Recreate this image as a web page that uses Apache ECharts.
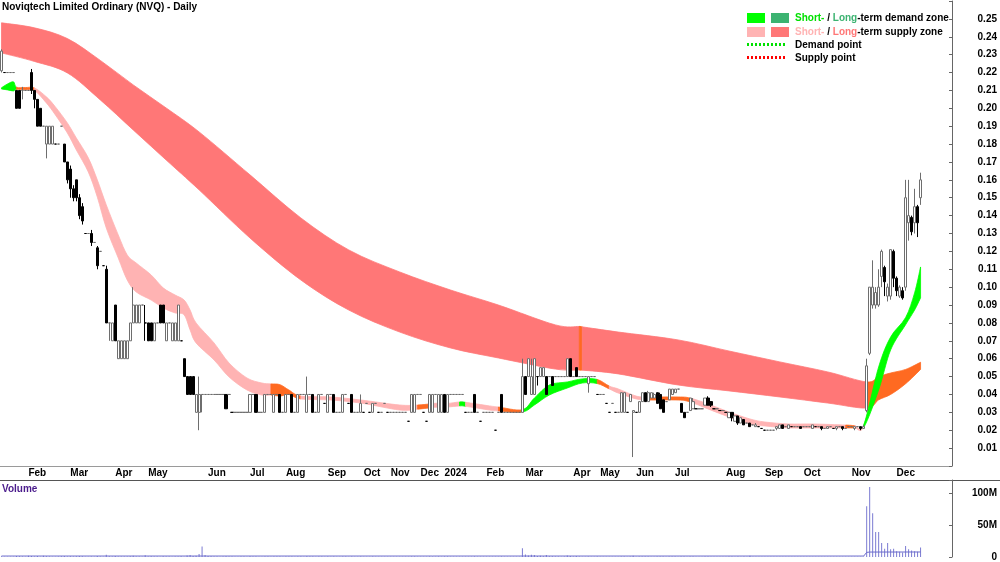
<!DOCTYPE html>
<html><head><meta charset="utf-8">
<script src="https://cdn.jsdelivr.net/npm/echarts@6/dist/echarts.min.js"></script>
<style>html,body{margin:0;padding:0;background:#fff}#c{width:1000px;height:562px}</style>
</head><body><div id="c"></div>
<script>
const FONT = '"Liberation Sans", Arial, sans-serif';

// month labels shown on the date axis (first one is not labelled) and trading bars per month
const months = ['Jan','Feb','Mar','Apr','May','Jun','Jul','Aug','Sep','Oct','Nov','Dec',
                '2024','Feb','Mar','Apr','May','Jun','Jul','Aug','Sep','Oct','Nov','Dec'];
const barsPerMonth = [9,14,15,11,20,14,12,14,12,9,10,8,14,13,16,9,12,13,17,13,13,16,15,9];
const padBars = 10;

// daily bars: [open, close, low, high]; a single number = open=close=low=high
const ohlc = [
  // Jan 2023
  [0.221,0.232,0.22,0.233],0.22,0.22,0.22,0.22,[0.21,0.2,0.2,0.21],[0.21,0.2,0.2,0.21],[0.21,0.21,0.205,0.212],0.21,
  // Feb
  0.21,[0.22,0.21,0.208,0.222],[0.21,0.205,0.2,0.21],[0.205,0.19,0.19,0.205],[0.2,0.19,0.19,0.2],0.19,[0.18,0.19,0.172,0.19],[0.18,0.19,0.18,0.19],[0.18,0.19,0.18,0.19],0.18,0.18,0.19,[0.18,0.17,0.17,0.18],[0.17,0.16,0.158,0.17],
  // Mar
  [0.166,0.155,0.15,0.168],[0.155,0.15,0.148,0.157],[0.16,0.15,0.148,0.16],[0.15,0.14,0.138,0.152],[0.145,0.137,0.135,0.147],0.13,0.13,[0.13,0.125,0.123,0.132],0.125,[0.122,0.112,0.11,0.123],0.12,0.112,[0.11,0.08,0.08,0.112],[0.08,0.08,0.07,0.08],[0.07,0.08,0.07,0.08],
  // Apr
  [0.09,0.07,0.07,0.09],[0.06,0.07,0.06,0.07],[0.06,0.07,0.06,0.07],[0.06,0.07,0.06,0.07],[0.06,0.07,0.06,0.07],[0.07,0.08,0.07,0.08],[0.08,0.09,0.08,0.1],[0.08,0.09,0.08,0.09],[0.08,0.09,0.08,0.09],0.09,[0.08,0.08,0.07,0.09],
  // May
  [0.08,0.07,0.07,0.08],[0.08,0.07,0.07,0.08],[0.07,0.08,0.07,0.08],0.08,[0.09,0.08,0.08,0.09],[0.09,0.08,0.08,0.09],[0.07,0.08,0.07,0.08],0.08,[0.07,0.08,0.07,0.08],[0.07,0.08,0.07,0.08],[0.07,0.09,0.07,0.09],0.07,[0.06,0.05,0.05,0.06],[0.05,0.04,0.04,0.05],[0.05,0.04,0.04,0.05],[0.05,0.04,0.04,0.05],[0.03,0.04,0.03,0.04],[0.03,0.04,0.02,0.05],[0.04,0.04,0.03,0.04],0.04,
  // Jun
  0.04,0.04,0.04,0.04,0.04,0.04,[0.04,0.032,0.032,0.04],0.04,0.03,0.03,0.03,0.03,0.03,0.03,
  // Jul
  [0.03,0.04,0.03,0.04],0.04,[0.04,0.03,0.03,0.04],0.03,0.03,[0.03,0.04,0.03,0.04],0.04,0.04,[0.03,0.04,0.03,0.04],0.04,[0.04,0.03,0.03,0.04],0.03,
  // Aug
  [0.03,0.04,0.03,0.04],0.04,[0.04,0.03,0.03,0.04],0.03,[0.03,0.04,0.03,0.04],0.04,0.04,[0.03,0.04,0.03,0.05],0.04,[0.04,0.03,0.03,0.04],0.03,[0.03,0.04,0.03,0.04],0.04,0.035,
  // Sep
  [0.03,0.04,0.03,0.04],0.04,[0.04,0.03,0.03,0.04],0.03,0.03,[0.03,0.04,0.03,0.04],0.04,0.035,[0.04,0.03,0.03,0.04],0.03,0.03,[0.03,0.035,0.03,0.04],
  // Oct
  0.03,0.035,0.03,[0.03,0.035,0.03,0.035],0.035,0.03,0.03,0.035,0.03,
  // Nov
  0.03,0.03,0.03,0.03,0.03,0.03,0.025,[0.03,0.04,0.03,0.04],[0.03,0.04,0.03,0.04],0.04,
  // Dec
  0.04,0.03,0.025,[0.03,0.04,0.03,0.04],[0.03,0.04,0.03,0.04],0.04,[0.03,0.04,0.03,0.04],[0.03,0.04,0.03,0.04],
  // Jan 2024
  [0.04,0.03,0.03,0.04],[0.03,0.04,0.03,0.04],0.04,0.04,0.04,0.04,0.04,0.03,0.03,0.03,[0.04,0.03,0.03,0.04],0.03,0.025,0.03,
  // Feb
  0.03,0.03,0.03,0.02,0.03,[0.04,0.03,0.03,0.04],0.03,0.03,0.03,0.03,0.03,0.03,[0.03,0.05,0.03,0.06],
  // Mar
  [0.05,0.04,0.04,0.05],[0.05,0.06,0.05,0.06],[0.04,0.05,0.04,0.06],[0.04,0.06,0.04,0.06],[0.05,0.05,0.045,0.05],[0.05,0.055,0.05,0.055],[0.05,0.055,0.05,0.055],[0.05,0.04,0.04,0.05],0.05,[0.05,0.045,0.045,0.05],0.05,0.05,0.05,0.05,[0.05,0.06,0.05,0.06],[0.06,0.05,0.05,0.06],
  // Apr
  0.05,[0.055,0.05,0.05,0.055],0.05,0.05,0.05,[0.046,0.05,0.041,0.05],0.05,0.05,0.04,
  // May
  0.04,0.04,0.035,0.03,0.035,0.03,0.03,[0.03,0.041,0.03,0.041],[0.03,0.041,0.03,0.041],0.03,[0.036,0.04,0.036,0.04],[0.03,0.031,0.005,0.031],
  // Jun
  0.03,[0.03,0.036,0.03,0.036],[0.036,0.041,0.036,0.041],[0.041,0.036,0.036,0.041],[0.036,0.041,0.036,0.042],[0.038,0.041,0.038,0.041],[0.038,0.04,0.038,0.041],[0.041,0.035,0.035,0.041],[0.04,0.032,0.032,0.041],[0.037,0.03,0.03,0.037],0.036,[0.037,0.043,0.037,0.043],[0.04,0.043,0.04,0.043],
  // Jul
  [0.041,0.043,0.041,0.043],0.043,[0.035,0.03,0.03,0.035],[0.03,0.027,0.027,0.03],0.03,[0.031,0.038,0.031,0.038],[0.032,0.036,0.032,0.038],0.032,0.032,0.032,[0.034,0.038,0.034,0.038],[0.038,0.034,0.034,0.039],[0.036,0.034,0.033,0.036],0.032,0.032,0.031,0.031,
  // Aug
  0.03,[0.027,0.03,0.027,0.03],[0.03,0.027,0.025,0.03],[0.025,0.028,0.025,0.028],[0.028,0.024,0.023,0.028],[0.024,0.027,0.024,0.027],[0.026,0.023,0.023,0.026],0.024,[0.024,0.022,0.022,0.024],0.023,[0.022,0.023,0.022,0.024],0.022,0.021,
  // Sep
  0.02,0.02,0.02,0.02,[0.021,0.022,0.02,0.022],[0.021,0.023,0.021,0.023],[0.023,0.021,0.021,0.023],0.022,[0.021,0.023,0.021,0.023],0.022,0.022,0.022,[0.022,0.021,0.021,0.022],
  // Oct
  0.022,0.022,0.022,[0.021,0.023,0.021,0.023],0.022,0.022,[0.022,0.021,0.02,0.022],0.021,[0.021,0.022,0.021,0.022],0.022,0.021,[0.021,0.022,0.02,0.022],0.022,[0.022,0.021,0.02,0.022],0.021,0.022,
  // Nov
  0.022,[0.021,0.022,0.02,0.022],0.022,[0.022,0.021,0.02,0.022],[0.021,0.022,0.021,0.023],[0.031,0.056,0.03,0.06],[0.063,0.1,0.062,0.1],[0.09,0.1,0.088,0.115],[0.09,0.097,0.088,0.1],[0.09,0.1,0.089,0.11],[0.106,0.12,0.1,0.121],[0.111,0.103,0.095,0.112],[0.095,0.1,0.092,0.102],[0.095,0.121,0.093,0.121],[0.12,0.105,0.1,0.121],
  // Dec
  [0.105,0.098,0.095,0.106],[0.095,0.1,0.094,0.101],[0.098,0.094,0.093,0.1],[0.1,0.15,0.098,0.16],[0.136,0.14,0.126,0.16],[0.139,0.131,0.129,0.14],[0.136,0.145,0.13,0.155],[0.145,0.136,0.128,0.146],[0.15,0.16,0.146,0.164]
];

// daily volume in millions of shares
const volume = [
  1.2,0.4,0.3,0.5,0.2,1.5,1.1,0.6,0.4,
  2.0,1.6,0.9,1.4,0.5,1.8,1.0,0.8,0.4,0.3,0.6,1.2,1.5,0.9,
  1.3,0.8,1.1,1.6,1.2,0.5,0.4,0.9,0.3,1.4,0.6,0.5,3.5,1.0,0.7,
  1.5,0.9,0.6,0.8,0.7,1.1,2.0,0.9,0.8,0.4,2.8,
  0.6,1.2,0.9,0.7,0.4,1.0,0.8,0.6,0.3,0.7,0.6,1.3,0.4,2.5,3.0,1.5,2.0,4.5,16.5,3.0,
  1.5,1.0,0.8,0.6,0.5,0.7,1.2,0.9,0.6,0.4,0.5,0.8,0.6,0.5,
  1.0,0.6,0.9,0.4,0.5,0.8,0.6,0.5,0.9,0.6,0.8,0.5,
  0.9,0.6,0.8,0.5,0.7,0.6,0.5,1.2,0.6,0.8,0.5,0.7,0.6,0.5,
  0.8,0.5,0.7,0.4,0.5,0.9,0.6,0.5,0.8,0.5,0.4,0.7,
  0.4,0.5,0.3,0.6,0.4,0.3,0.4,0.5,0.3,
  0.3,0.4,0.3,0.3,0.2,0.4,0.3,0.8,0.6,0.4,
  0.5,0.3,0.2,0.7,0.6,0.4,0.6,0.5,
  0.7,0.6,0.4,0.3,0.3,0.4,0.3,0.3,0.2,0.3,0.6,0.3,0.2,0.3,
  0.3,0.2,0.3,0.2,0.3,0.7,0.3,0.2,0.3,0.2,0.3,0.3,13.5,
  4.0,2.5,3.5,3.0,1.5,1.8,1.2,3.0,1.0,1.2,0.8,0.6,0.5,0.7,2.5,1.6,
  0.8,1.5,0.6,0.5,0.4,0.9,0.5,0.4,0.6,
  0.5,0.4,0.5,0.4,0.3,0.4,0.3,0.8,0.7,0.3,0.6,2.0,
  0.4,0.7,0.8,0.6,0.7,0.5,0.5,0.9,0.8,0.7,0.4,0.9,0.6,
  0.6,0.4,0.9,0.7,0.3,0.8,0.6,0.3,0.3,0.3,0.7,0.8,0.5,0.3,0.3,0.2,0.2,
  0.3,0.6,0.7,0.5,0.8,0.5,0.7,0.3,2.0,0.4,0.5,0.3,0.3,
  0.2,0.2,0.2,0.2,0.4,0.5,0.5,0.3,0.5,0.3,0.3,0.3,0.4,
  0.3,0.3,0.3,0.5,0.3,0.3,0.5,0.3,0.4,0.3,0.3,0.5,0.3,0.5,0.3,0.3,
  0.3,0.4,0.3,0.5,0.6,79,109,68,39,39,22,13,22,12,13,
  9,8,7,17,12,10,9,8,15
];
// volume average line: [bar index, millions]
const volumeAvg = [[0,1.5],[288,1.5],[289,7.2],[290,7.7],[307,7.8]];

// zone bands: [bar index, upper price, lower price]
const longBand = [
  [-0.5,0.2478,0.2310],[10.5,0.2450,0.2262],[21.8,0.2390,0.2198],[32.8,0.2268,0.2047],[43.8,0.2131,0.1879],
  [55.2,0.2002,0.1711],[66.2,0.1868,0.1544],[82.8,0.1628,0.1275],[99.5,0.1387,0.1040],[116.2,0.1208,0.0872],
  [132.8,0.1085,0.0749],[149.5,0.0984,0.0660],[166.2,0.0900,0.0604],[185.2,0.0789,0.0542],[192.5,0.0780,0.0537],
  [193.6,0.0778,0.0536],[206.2,0.0749,0.0515],[226.2,0.0705,0.0453],[242.8,0.0643,0.0420],[259.5,0.0582,0.0386],
  [276.2,0.0526,0.0352],[288.8,0.0470,0.0324],[292.8,0.0500,0.0370],[297.2,0.0520,0.0400],[301.8,0.0540,0.0460],
  [307.2,0.0580,0.0540]
];
const longZones = [[-0.5,192.5,'red'],[192.5,193.6,'orange'],[193.6,288.8,'red'],[288.8,307.2,'orange']];

const shortBand = [
  [-0.5,0.2115,0.2108],[1.5,0.2136,0.2103],[3.5,0.2148,0.2097],[4.5,0.2118,0.2106],[7.5,0.2116,0.2104],
  [10.5,0.2114,0.2100],[14.5,0.2064,0.2030],[17.8,0.2008,0.1963],[21.8,0.1918,0.1862],[25.2,0.1834,0.1767],
  [28.5,0.1723,0.1644],[31.8,0.1600,0.1504],[35.2,0.1460,0.1331],[38.5,0.1292,0.1163],[41.8,0.1180,0.1040],
  [45.2,0.1135,0.0973],[49.5,0.1068,0.0928],[53.8,0.0996,0.0884],[57.8,0.0956,0.0856],[60.5,0.0928,0.0845],
  [62.8,0.0872,0.0761],[65.2,0.0800,0.0688],[70.5,0.0688,0.0593],[76.2,0.0576,0.0498],[81.8,0.0492,0.0425],
  [87.2,0.0464,0.0397],[89.5,0.0459,0.0397],[92.8,0.0455,0.0391],[96.2,0.0425,0.0400],[99.5,0.0391,0.0375],
  [109.5,0.0386,0.0369],[119.5,0.0369,0.0352],[132.8,0.0341,0.0313],[138.5,0.0341,0.0318],[142.8,0.0347,0.0325],
  [146.2,0.0352,0.0330],[148.5,0.0350,0.0330],[152.8,0.0358,0.0336],[155.2,0.0356,0.0334],[162.8,0.0336,0.0313],
  [166.2,0.0330,0.0308],[173.8,0.0315,0.0302],[177.8,0.0380,0.0341],[182.8,0.0453,0.0397],[188.5,0.0470,0.0436],
  [193.8,0.0487,0.0464],[198.5,0.0484,0.0461],[202.8,0.0447,0.0431],[206.2,0.0431,0.0408],[211.8,0.0391,0.0375],
  [216.2,0.0386,0.0369],[226.2,0.0386,0.0369],[229.5,0.0380,0.0358],[236.2,0.0347,0.0319],[242.8,0.0302,0.0274],
  [249.5,0.0263,0.0235],[255.2,0.0246,0.0224],[262.8,0.0235,0.0213],[270.5,0.0235,0.0213],[282.2,0.0229,0.0213],
  [285.2,0.0226,0.0213],[288.2,0.0230,0.0215],[292.8,0.0554,0.0425],[297.2,0.0721,0.0649],[301.8,0.0830,0.0790],
  [304.5,0.0968,0.0872],[307.2,0.1113,0.0940]
];
const shortZones = [
  [-0.5,4.5,'green'],[4.5,10.5,'orange'],[10.5,89.5,'pink'],[89.5,99.5,'orange'],[99.5,138.5,'pink'],
  [138.5,142.8,'orange'],[142.8,146.2,'pink'],[146.2,148.5,'green'],[148.5,152.8,'pink'],[152.8,155.2,'green'],
  [155.2,166.2,'pink'],[166.2,173.8,'orange'],[173.8,198.5,'green'],[198.5,202.8,'orange'],[202.8,216.2,'pink'],
  [216.2,229.5,'orange'],[229.5,282.2,'pink'],[282.2,285.2,'orange'],[285.2,288.2,'pink'],[288.2,307.2,'green']
];
const zoneColors = {red:'#FF7777', pink:'#FFB3B3', orange:'#FF6A21', green:'#00FF00'};
const volumeTickLabels = {0:'0', 50:'50M', 100:'100M'};

// ---- build
const categories = [], monthStart = {};
months.forEach((m, mi) => {
  for (let k = 0; k < barsPerMonth[mi]; k++) {
    if (k === 0 && mi > 0) monthStart[categories.length] = m;
    categories.push(mi + '-' + k);
  }
});
for (let k = 0; k < padBars; k++) categories.push('pad-' + k);
const candles = ohlc.map(d => typeof d === 'number' ? [d, d, d, d] : d);

// smooth band outline (Catmull-Rom through the read points, in pixel space)
function bandPaths(api, band, zones) {
  const up = band.map(p => api.coord([p[0], p[1]]));
  const lo = band.map(p => api.coord([p[0], p[2]]));
  const n = band.length;
  const f = v => v.toFixed(2);
  const seg = (arr, j, k) => {
    const d = k - j;
    const prev = arr[Math.min(n - 1, Math.max(0, j - d))];
    const next = arr[Math.min(n - 1, Math.max(0, k + d))];
    const c1x = arr[j][0] + (arr[k][0] - prev[0]) / 6, c1y = arr[j][1] + (arr[k][1] - prev[1]) / 6;
    const c2x = arr[k][0] - (next[0] - arr[j][0]) / 6, c2y = arr[k][1] - (next[1] - arr[j][1]) / 6;
    return 'C' + f(c1x) + ',' + f(c1y) + ' ' + f(c2x) + ',' + f(c2y) + ' ' + f(arr[k][0]) + ',' + f(arr[k][1]);
  };
  const out = [];
  zones.forEach(([a, b, key]) => {
    let ia = -1, ib = -1;
    band.forEach((p, i) => { if (p[0] >= a - 1e-6 && p[0] <= b + 1e-6) { if (ia < 0) ia = i; ib = i; } });
    if (ia < 0 || ib <= ia) return;
    let d = 'M' + f(up[ia][0]) + ',' + f(up[ia][1]);
    for (let j = ia; j < ib; j++) d += seg(up, j, j + 1);
    d += 'L' + f(lo[ib][0]) + ',' + f(lo[ib][1]);
    for (let j = ib; j > ia; j--) d += seg(lo, j, j - 1);
    d += 'Z';
    out.push({type: 'path', shape: {pathData: d},
      style: {fill: zoneColors[key], stroke: zoneColors[key], lineWidth: 0.8}});
  });
  return out;
}

const labelStyle = {fontFamily: FONT, fontSize: 10, fontWeight: 'bold', color: '#000'};
const chart = echarts.init(document.getElementById('c'), null, {renderer: 'canvas'});
chart.setOption({
  animation: false,
  backgroundColor: '#fff',
  grid: [
    {left: 0, right: 48, top: 1, height: 465},
    {left: 0, right: 48, top: 480, height: 78}
  ],
  xAxis: [
    {type: 'category', gridIndex: 0, data: categories, boundaryGap: true,
     axisLine: {lineStyle: {color: '#9a9a9a', width: 1}},
     axisTick: {interval: (i) => monthStart[i] !== undefined, length: 3, lineStyle: {color: '#888'}},
     axisLabel: Object.assign({interval: (i) => monthStart[i] !== undefined,
       formatter: (v, i) => monthStart[i] || '', align: 'left', margin: 2}, labelStyle),
     splitLine: {show: false}},
    {type: 'category', gridIndex: 1, data: categories, boundaryGap: true,
     axisLine: {show: false}, axisTick: {show: false}, axisLabel: {show: false}, splitLine: {show: false}}
  ],
  yAxis: [
    {type: 'value', gridIndex: 0, position: 'right', min: 0, max: 0.26, interval: 0.01,
     axisLine: {show: true, lineStyle: {color: '#666'}},
     axisTick: {show: true, inside: true, length: 3, lineStyle: {color: '#666'}},
     axisLabel: Object.assign({align: 'right', margin: 45,
       formatter: v => (v > 0.005 && v < 0.255) ? v.toFixed(2) : ''}, labelStyle),
     splitLine: {show: false}},
    {type: 'value', gridIndex: 1, position: 'right', min: 0, max: 120, interval: 50,
     axisLine: {show: true, lineStyle: {color: '#666'}},
     axisTick: {show: true, inside: true, length: 3, lineStyle: {color: '#666'}},
     axisLabel: Object.assign({align: 'right', margin: 45,
       formatter: v => volumeTickLabels[Math.round(v)] !== undefined && Math.abs(v - Math.round(v)) < 1e-6 ? volumeTickLabels[Math.round(v)] : ''}, labelStyle),
     splitLine: {show: false}}
  ],
  series: [
    {type: 'custom', xAxisIndex: 0, yAxisIndex: 0, data: [[0, 0]], z: 1, silent: true, clip: true,
     renderItem: (params, api) => ({type: 'group',
       children: bandPaths(api, longBand, longZones).concat(bandPaths(api, shortBand, shortZones))})},
    {type: 'candlestick', xAxisIndex: 0, yAxisIndex: 0, data: candles, z: 3, barWidth: 2.6,
     itemStyle: {color: '#ffffff', color0: '#000000', borderColor: '#6e6e6e', borderColor0: '#000000', borderWidth: 1}},
    {type: 'bar', xAxisIndex: 1, yAxisIndex: 1, data: volume, barWidth: 1,
     itemStyle: {color: '#7b7bd2'}},
    {type: 'line', xAxisIndex: 1, yAxisIndex: 1, data: volumeAvg, symbol: 'none',
     lineStyle: {color: '#6b6bcc', width: 1}}
  ],
  graphic: [
    {type: 'line', shape: {x1: 0, y1: 480.5, x2: 1000, y2: 480.5}, style: {stroke: '#555', lineWidth: 1}, silent: true},
    {type: 'text', x: 2, y: 2, style: {text: 'Noviqtech Limited Ordinary (NVQ) - Daily', font: 'bold 10px ' + FONT, fill: '#000'}},
    {type: 'text', x: 2, y: 484, style: {text: 'Volume', font: 'bold 10px ' + FONT, fill: '#4b1c8c'}},
    {type: 'rect', shape: {x: 747, y: 13, width: 18, height: 10}, style: {fill: '#00FF00'}},
    {type: 'rect', shape: {x: 771, y: 13, width: 18, height: 10}, style: {fill: '#3CB371'}},
    {type: 'rect', shape: {x: 747, y: 27, width: 18, height: 10}, style: {fill: '#FFB3B3'}},
    {type: 'rect', shape: {x: 771, y: 27, width: 18, height: 10}, style: {fill: '#FF7777'}},
    {type: 'line', shape: {x1: 747, y1: 44.5, x2: 786, y2: 44.5}, style: {stroke: '#00E000', lineWidth: 3, lineDash: [2, 2]}},
    {type: 'line', shape: {x1: 747, y1: 57.5, x2: 786, y2: 57.5}, style: {stroke: '#FF0000', lineWidth: 3, lineDash: [2, 2]}},
    {type: 'text', x: 795, y: 18.5, style: {text: '{g|Short-}{k| / }{lg|Long}{k|-term demand zone}', textVerticalAlign: 'middle',
      rich: {g: {fill: '#00E000', font: 'bold 10px ' + FONT}, lg: {fill: '#3CB371', font: 'bold 10px ' + FONT}, k: {fill: '#000', font: 'bold 10px ' + FONT}}}},
    {type: 'text', x: 795, y: 32, style: {text: '{p|Short-}{k| / }{r|Long}{k|-term supply zone}', textVerticalAlign: 'middle',
      rich: {p: {fill: '#FFB3B3', font: 'bold 10px ' + FONT}, r: {fill: '#FF7777', font: 'bold 10px ' + FONT}, k: {fill: '#000', font: 'bold 10px ' + FONT}}}},
    {type: 'text', x: 795, y: 45, style: {text: 'Demand point', font: 'bold 10px ' + FONT, fill: '#000', textVerticalAlign: 'middle'}},
    {type: 'text', x: 795, y: 58, style: {text: 'Supply point', font: 'bold 10px ' + FONT, fill: '#000', textVerticalAlign: 'middle'}}
  ]
});
</script></body></html>
